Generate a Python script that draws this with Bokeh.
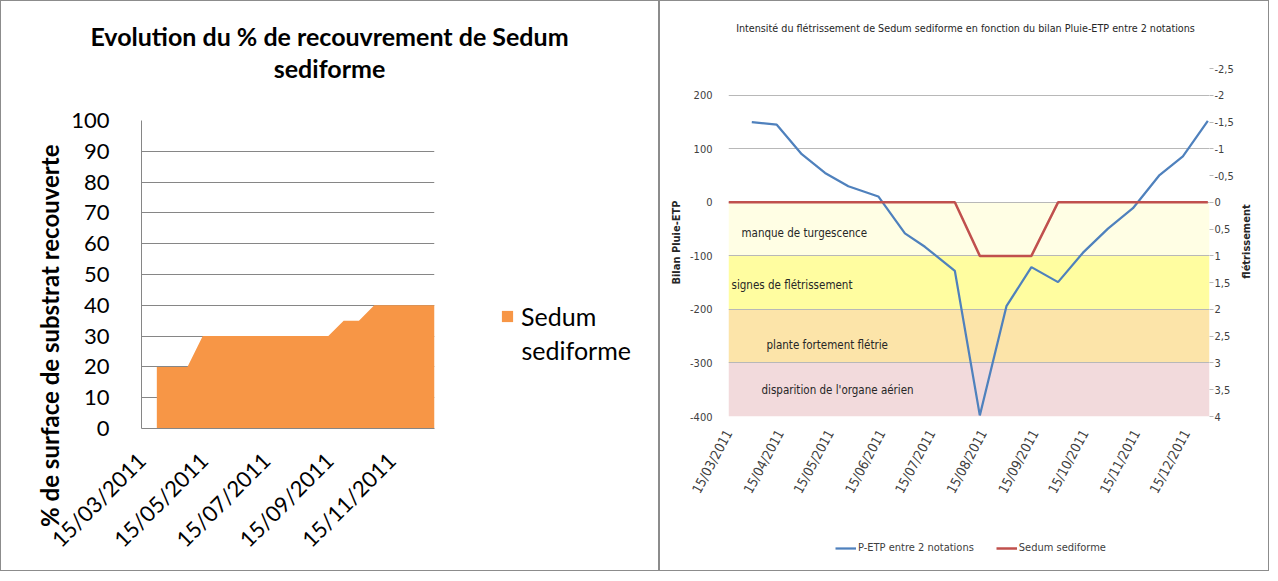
import datetime as dt
from math import pi

from bokeh.plotting import figure
from bokeh.layouts import row, column
from bokeh.models import (Range1d, LinearAxis, FixedTicker, SingleIntervalTicker,
                          DatetimeTickFormatter, CustomJSTickFormatter, Label,
                          Legend, LegendItem, BoxAnnotation)
from bokeh.core.properties import value
from bokeh.embed import file_html
from bokeh.resources import INLINE

# ---------------- data ----------------
cover_dates = ["2011-03-30", "2011-04-29", "2011-05-14", "2011-09-14",
               "2011-09-29", "2011-10-14", "2011-10-29", "2011-12-27"]
cover_pct = [20, 20, 30, 30, 35, 35, 40, 40]
cover_ticks = ["15/03/2011", "15/05/2011", "15/07/2011", "15/09/2011", "15/11/2011"]
cover_axis_start = "2011-03-15"
cover_axis_end = "2011-12-27"
cover_title = ["Evolution du % de recouvrement de Sedum", "sediforme"]
cover_ylabel = "% de surface de substrat recouverte"
cover_series = ["Sedum", "sediforme"]

petp_dates = ["2011-03-29", "2011-04-13", "2011-04-28", "2011-05-12", "2011-05-26",
              "2011-06-13", "2011-06-29", "2011-07-11", "2011-07-29", "2011-08-13",
              "2011-08-29", "2011-09-13", "2011-09-29", "2011-10-14", "2011-10-29",
              "2011-11-13", "2011-11-29", "2011-12-13", "2011-12-28"]
petp_values = [150, 145, 90, 55, 30, 11, -58, -83, -128, -398,
               -194, -121, -149, -94, -49, -11, 51, 86, 152]
flet_dates = ["2011-03-15", "2011-07-29", "2011-08-13", "2011-09-13", "2011-09-29", "2011-12-28"]
flet_values = [0, 0, 1, 1, 0, 0]
month_ticks = ["15/03/2011", "15/04/2011", "15/05/2011", "15/06/2011", "15/07/2011",
               "15/08/2011", "15/09/2011", "15/10/2011", "15/11/2011", "15/12/2011"]
left_ticks = [200, 100, 0, -100, -200, -300, -400]
band_edges = [0, -100, -200, -300, -400]
band_names = ["manque de turgescence", "signes de flétrissement",
              "plante fortement flétrie", "disparition de l'organe aérien"]
band_colors = ["#FFFEE4", "#FFFDA0", "#FCE4A9", "#F2DADC"]
band_text_y = [-58, -155, -267, -350]
band_text_x = [13, 3, 38, 33]
right_axis_start = "2011-03-15"
right_axis_end = "2011-12-29"
right_title = "Intensité du flétrissement de Sedum sediforme en fonction du bilan Pluie-ETP entre 2 notations"
right_ylabel = "flétrissement"
series_names = ["P-ETP entre 2 notations", "Sedum sediforme"]

EPOCH = dt.datetime(1970, 1, 1)


def ms_iso(s):
    return (dt.datetime.strptime(s, "%Y-%m-%d") - EPOCH).total_seconds() * 1000.0


def ms_fr(s):
    return (dt.datetime.strptime(s, "%d/%m/%Y") - EPOCH).total_seconds() * 1000.0


def date_fmt():
    f = "%d/%m/%Y"
    return DatetimeTickFormatter(microseconds=f, milliseconds=f, seconds=f, minsec=f,
                                 minutes=f, hourmin=f, hours=f, days=f, months=f, years=f)


def helper(w, h, top=None, bottom=None):
    # helper canvas for texts / legend; its y range is given in page pixels
    yr = Range1d(h, 0) if top is None else Range1d(bottom, top)
    f = figure(width=w, height=h, x_range=Range1d(0, w), y_range=yr,
               min_border=0, toolbar_location=None, output_backend="svg")
    f.axis.visible = False
    f.grid.visible = False
    f.outline_line_color = None
    return f


BORDER = {"border": "1px solid #8c8c8c", "box-sizing": "border-box"}
PLAIN = CustomJSTickFormatter(code="return tick.toString().replace('.', ',');")

cover_x = [ms_iso(d) for d in cover_dates]
petp_x = [ms_iso(d) for d in petp_dates]
flet_x = [ms_iso(d) for d in flet_dates]

# ================= left chart =================
LF = "Lato"
ORANGE = "#F79646"
t1 = helper(657, 95)
t1.text(x=[328, 328], y=[34, 66], text=cover_title, text_font=value(LF),
        text_font_size=value("25px"), text_font_style="bold", text_align="center",
        text_baseline="middle", text_color="#000000")

p1 = figure(width=480, height=474, x_axis_type="datetime",
            x_range=Range1d(ms_iso(cover_axis_start), ms_iso(cover_axis_end)),
            y_range=Range1d(0, 100), output_backend="svg", toolbar_location=None,
            min_border_left=140, min_border_right=47, min_border_top=24,
            min_border_bottom=142)
p1.outline_line_color = None

area = p1.varea(x=cover_x, y1=0, y2=cover_pct, fill_color=ORANGE)

p1.xgrid.visible = False
p1.ygrid.grid_line_color = "#868686"
p1.ygrid.ticker = SingleIntervalTicker(interval=10)

ya = p1.yaxis[0]
ya.ticker = SingleIntervalTicker(interval=10)
ya.axis_line_color = "#868686"
ya.major_tick_line_color = None
ya.minor_tick_line_color = None
ya.major_label_text_font = LF
ya.major_label_text_font_size = "22px"
ya.major_label_text_color = "#000000"
ya.major_label_standoff = 26
# the original centres this title lower than the plot area: trailing no-break spaces
ya.axis_label = cover_ylabel + "\u00a0" * 21
ya.axis_label_text_font = LF
ya.axis_label_text_font_style = "bold"
ya.axis_label_text_font_size = "24px"
ya.axis_label_text_color = "#000000"
ya.axis_label_standoff = 4

xa = p1.xaxis[0]
xa.ticker = FixedTicker(ticks=[ms_fr(t) for t in cover_ticks])
xa.formatter = date_fmt()
xa.axis_line_color = "#868686"
xa.major_tick_line_color = None
xa.minor_tick_line_color = None
xa.major_label_orientation = pi / 4
xa.major_label_text_font = LF
xa.major_label_text_font_size = "22px"
xa.major_label_text_color = "#000000"
xa.major_label_standoff = 22

# legend canvas: its frame is aligned with p1's frame (page y 127..435)
l1 = helper(177, 474, top=127, bottom=435)
key1 = l1.varea(x=cover_x, y1=0, y2=cover_pct, fill_color=ORANGE)
l1.add_layout(Legend(items=[LegendItem(label=cover_series[0], renderers=[key1])],
                     location=(19, 97), border_line_color=None,
                     background_fill_alpha=0, padding=0, margin=0, glyph_width=14,
                     glyph_height=14, label_height=26, label_standoff=7,
                     label_text_font=LF, label_text_font_size="25px",
                     label_text_color="#000000"))
l1.text(x=[40], y=[356], text=[cover_series[1]], text_font=value(LF),
        text_font_size=value("25px"), text_align="left", text_baseline="middle",
        text_color="#000000")

left_panel = column(t1, row(p1, l1), styles=BORDER)

# ================= right chart =================
RF = "DejaVu Sans Condensed"
t2 = helper(608, 50)
t2.text(x=[305], y=[27], text=[right_title], text_font=value(RF),
        text_font_size=value("10.7px"), text_align="center", text_baseline="middle",
        text_color="#262626")

p2 = figure(width=576, height=479, x_axis_type="datetime",
            x_range=Range1d(ms_iso(right_axis_start), ms_iso(right_axis_end)),
            y_range=Range1d(-400, 250), output_backend="svg", toolbar_location=None,
            min_border_left=68, min_border_right=26, min_border_top=17,
            min_border_bottom=114)
p2.outline_line_color = None
p2.extra_y_ranges = {"flet": Range1d(4, -2.5)}

for i, name in enumerate(band_names):
    p2.add_layout(BoxAnnotation(top=band_edges[i], bottom=band_edges[i + 1],
                                fill_color=band_colors[i], fill_alpha=1.0,
                                line_color=None, level="image"))

p2.xgrid.visible = False
p2.ygrid.ticker = FixedTicker(ticks=left_ticks)
p2.ygrid.grid_line_color = "#b8b8b8"

for i, name in enumerate(band_names):
    p2.add_layout(Label(x=band_text_x[i], y=band_text_y[i], x_units="screen",
                        y_units="data", text=name, text_align="left",
                        text_baseline="middle", text_font=RF, text_font_size="11.5px",
                        text_color="#262626"))

blue = p2.line(petp_x, petp_values, line_color="#4F81BD", line_width=2.25)
red = p2.line(flet_x, flet_values, line_color="#C0504D", line_width=2.5,
              y_range_name="flet")

la = p2.yaxis[0]
la.ticker = FixedTicker(ticks=left_ticks)
la.formatter = PLAIN
la.axis_line_color = None
la.major_tick_line_color = None
la.minor_tick_line_color = None
la.major_label_text_font = RF
la.major_label_text_font_size = "11px"
la.major_label_text_color = "#404040"
la.major_label_standoff = 10
la.axis_label = "Bilan Pluie-ETP"
la.axis_label_text_font = RF
la.axis_label_text_font_style = "bold"
la.axis_label_text_font_size = "11px"
la.axis_label_text_color = "#262626"
la.axis_label_standoff = 4

ra = LinearAxis(y_range_name="flet")
ra.ticker = SingleIntervalTicker(interval=0.5)
ra.formatter = PLAIN
ra.axis_line_color = None
ra.major_tick_line_color = "#b8b8b8"
ra.major_tick_out = 4
ra.major_tick_in = 0
ra.minor_tick_line_color = None
ra.major_label_text_font = RF
ra.major_label_text_font_size = "11px"
ra.major_label_text_color = "#404040"
ra.major_label_standoff = 1
p2.add_layout(ra, "right")

bx = p2.xaxis[0]
bx.ticker = FixedTicker(ticks=[ms_fr(t) for t in month_ticks])
bx.formatter = date_fmt()
bx.axis_line_color = None
bx.major_tick_line_color = None
bx.minor_tick_line_color = None
bx.major_label_orientation = 1.08
bx.major_label_text_font = RF
bx.major_label_text_font_size = "13.5px"
bx.major_label_text_color = "#404040"
bx.major_label_standoff = 8

# right title canvas: frame aligned with p2's frame (page y 75..423)
r2 = helper(32, 479, top=75, bottom=423)
r2.text(x=[10], y=[248], text=[right_ylabel], angle=pi / 2, text_font=value(RF),
        text_font_size=value("11px"), text_font_style="bold", text_align="center",
        text_baseline="middle", text_color="#262626")

l2 = helper(608, 40)
k_blue = l2.line(x=petp_x, y=petp_values, line_color="#4F81BD", line_width=2.25)
k_red = l2.line(x=flet_x, y=flet_values, line_color="#C0504D", line_width=2.5)
l2.add_layout(Legend(items=[LegendItem(label=series_names[0], renderers=[k_blue]),
                            LegendItem(label=series_names[1], renderers=[k_red])],
                     location=(175, 16), orientation="horizontal",
                     border_line_color=None, background_fill_alpha=0, padding=0,
                     margin=0, spacing=22, glyph_width=21, glyph_height=12,
                     label_standoff=2, label_text_font=RF, label_text_font_size="11px",
                     label_text_color="#404040"))

right_panel = column(t2, row(p2, r2), l2, styles=BORDER)

layout = row(left_panel, right_panel)
open("out.html", "w").write(file_html(layout, INLINE))
